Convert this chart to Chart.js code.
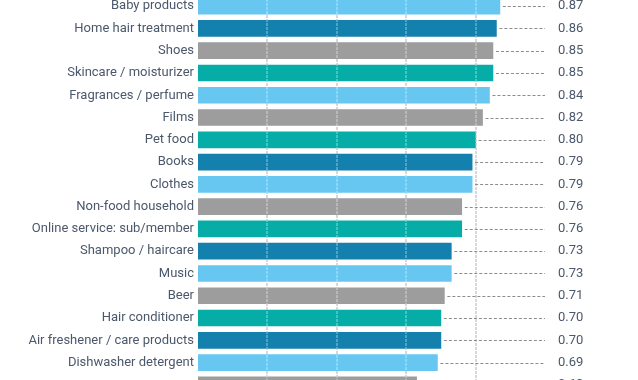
<!DOCTYPE html>
<html>
<head>
<meta charset="utf-8">
<script src="https://cdn.jsdelivr.net/npm/chart.js@4/dist/chart.umd.min.js"></script>
<style>
  html, body { margin: 0; padding: 0; background: #fff; width: 638px; height: 380px; overflow: hidden; }
  #wrap { position: absolute; left: 0; top: -5px; width: 638px; height: 401px; }
</style>
</head>
<body>
<div id="wrap"><canvas id="c"></canvas></div>
<script>
const categories = [
  "Baby products", "Home hair treatment", "Shoes", "Skincare / moisturizer",
  "Fragrances / perfume", "Films", "Pet food", "Books", "Clothes",
  "Non-food household", "Online service: sub/member", "Shampoo / haircare",
  "Music", "Beer", "Hair conditioner", "Air freshener / care products",
  "Dishwasher detergent", ""
];
const values = [0.87, 0.86, 0.85, 0.85, 0.84, 0.82, 0.80, 0.79, 0.79, 0.76, 0.76, 0.73, 0.73, 0.71, 0.70, 0.70, 0.69, 0.63];
const valueLabels = ["0.87","0.86","0.85","0.85","0.84","0.82","0.80","0.79","0.79","0.76","0.76","0.73","0.73","0.71","0.70","0.70","0.69","0.63"];
const barColors = [
  "#67C7F1", "#1480AD", "#9D9D9D", "#06ADA7", "#67C7F1", "#9D9D9D", "#06ADA7", "#1480AD", "#67C7F1",
  "#9D9D9D", "#06ADA7", "#1480AD", "#67C7F1", "#9D9D9D", "#06ADA7", "#1480AD", "#67C7F1", "#9D9D9D"
];
const gridTicks = [0.2, 0.4, 0.6, 0.8];

const FONT = "Roboto, 'Open Sans', sans-serif";
const TEXT = "#4b586b";

const overlay = {
  id: 'overlay',
  beforeDatasetsDraw(chart) {
    const ctx = chart.ctx;
    const x = chart.scales.x;
    ctx.save();
    ctx.strokeStyle = '#959595';
    ctx.lineWidth = 1;
    ctx.setLineDash([3, 1]);
    gridTicks.forEach(v => {
      const px = Math.round(x.getPixelForValue(v));
      ctx.beginPath(); ctx.moveTo(px, 0); ctx.lineTo(px, chart.height); ctx.stroke();
    });
    ctx.restore();
  },
  afterDatasetsDraw(chart) {
    const ctx = chart.ctx;
    const x = chart.scales.x;
    ctx.save();
    ctx.strokeStyle = 'rgba(255,255,255,0.55)';
    ctx.lineWidth = 1;
    ctx.setLineDash([3, 1]);
    gridTicks.forEach(v => {
      const px = Math.round(x.getPixelForValue(v));
      ctx.beginPath(); ctx.moveTo(px, 0); ctx.lineTo(px, chart.height); ctx.stroke();
    });
    const meta = chart.getDatasetMeta(0);
    const xEnd = x.getPixelForValue(1);
    ctx.strokeStyle = '#8c8c8c';
    ctx.setLineDash([3, 2]);
    ctx.font = "13px " + FONT;
    ctx.fillStyle = TEXT;
    ctx.textBaseline = 'middle';
    ctx.textAlign = 'left';
    meta.data.forEach((bar, i) => {
      const py = Math.round(bar.y) + 0.5;
      ctx.beginPath(); ctx.moveTo(bar.x + 3, py); ctx.lineTo(xEnd, py); ctx.stroke();
      ctx.fillText(valueLabels[i], xEnd + 13, bar.y);
    });
    ctx.restore();
  }
};

new Chart(document.getElementById('c'), {
  type: 'bar',
  data: {
    labels: categories,
    datasets: [{
      data: values,
      backgroundColor: barColors,
      borderWidth: 0,
      barThickness: 16
    }]
  },
  options: {
    indexAxis: 'y',
    responsive: true,
    maintainAspectRatio: false,
    animation: false,
    layout: { padding: { left: 0, right: 93, top: 0, bottom: 0 } },
    plugins: { legend: { display: false }, tooltip: { enabled: false } },
    scales: {
      x: {
        min: 0, max: 1,
        border: { display: false },
        ticks: { display: false },
        grid: { display: false, drawTicks: false },
        afterFit(s) { s.height = 0; s.paddingLeft = 0; s.paddingRight = 0; }
      },
      y: {
        border: { display: false },
        grid: { display: false, drawTicks: false },
        ticks: { color: TEXT, font: { family: FONT, size: 13 }, padding: 4, autoSkip: false },
        afterFit(s) { s.width = 198; s.paddingTop = 0; s.paddingBottom = 0; }
      }
    }
  },
  plugins: [overlay]
});
</script>
</body>
</html>
